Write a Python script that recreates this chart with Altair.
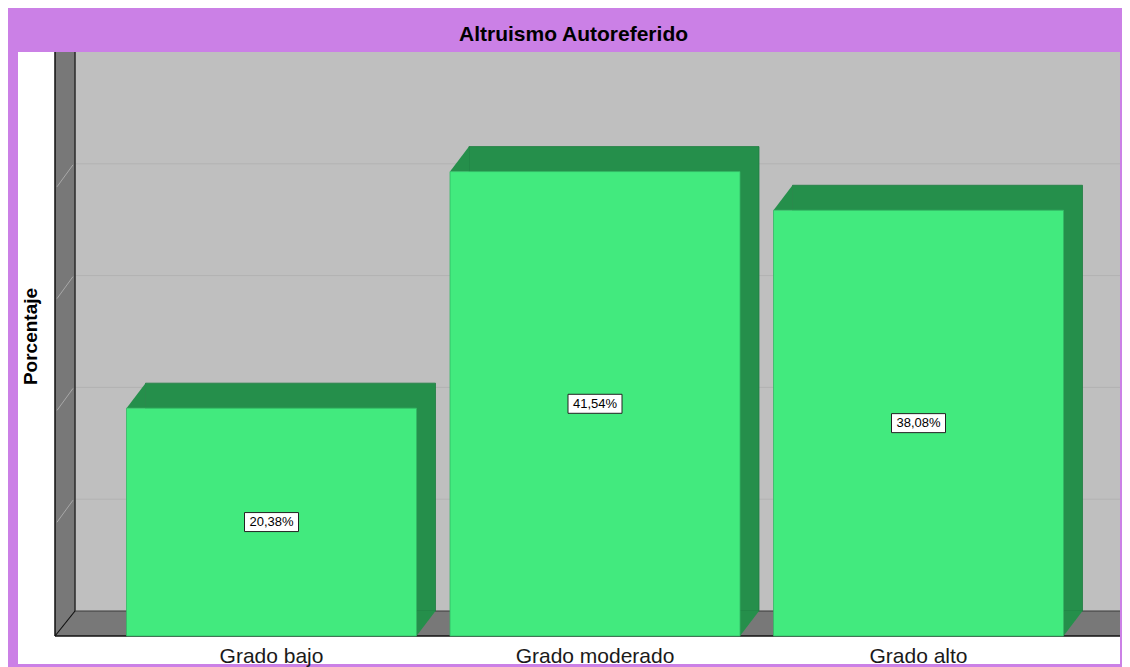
import altair as alt
import pandas as pd

# ---- data ----
categories = ["Grado bajo", "Grado moderado", "Grado alto"]
percentages = [20.38, 41.54, 38.08]
grid_ticks = [10, 20, 30, 40]
y_domain = [0, 50]
title_text = "Altruismo Autoreferido"
y_title = "Porcentaje"

labels = [f"{v:.2f}".replace(".", ",") + "%" for v in percentages]
bars = pd.DataFrame({"cat": categories, "pct": percentages, "label": labels})
bars["mid"] = bars["pct"] / 2
grid = pd.DataFrame({"g": grid_ticks})
one = pd.DataFrame({"k": [0]})

# ---- style ----
W, H = 1045, 559          # back wall (plot area)
DX, DY = 19, 25           # 3D depth in px
BW = 290                  # bar width in px
FONT = "Liberation Sans"
PURPLE = "#CB80E6"
WALL = "#BFBFBF"
SIDE = "#787878"
GREEN = "#42EA7E"
DGREEN = "#258F4B"

xscale = alt.Scale(domain=categories, paddingInner=0, paddingOuter=0.11515, align=0.7215)
yscale = alt.Scale(domain=y_domain, nice=False, zero=True)

xaxis = alt.Axis(orient="bottom", offset=DY, labelOffset=-DX, domain=False, ticks=False,
                 grid=False, labelFont=FONT, labelFontSize=21, labelColor="#1a1a1a",
                 labelPadding=9, title=None, labelAngle=0, zindex=2)
yaxis = alt.Axis(title=y_title, labels=False, ticks=False, domain=False, grid=False,
                 titleFont=FONT, titleFontSize=19, titleFontWeight="bold", titleColor="black",
                 titleAngle=270, titleAlign="center", titleBaseline="middle",
                 titleX=-44.5, titleY=284, zindex=2)

X = alt.X("cat:N", scale=xscale, sort=categories, axis=xaxis)


def Yf(field):
    return alt.Y(field, scale=yscale, axis=yaxis)


def box(x, x2, y, y2, color):
    return alt.Chart(one).mark_rect(color=color).encode(
        x=alt.value(x), x2=alt.value(x2), y=alt.value(y), y2=alt.value(y2))


def seg(x, x2, y, y2, color, w):
    return alt.Chart(one).mark_rule(color=color, strokeWidth=w).encode(
        x=alt.value(x), x2=alt.value(x2), y=alt.value(y), y2=alt.value(y2))


panel = box(-57, W, 0, H + 53, "white")
back_wall = box(0, W, 0, H, WALL)
gridlines = alt.Chart(grid).mark_rule(color="#B2B2B2", strokeWidth=1).encode(
    y=Yf("g:Q"), x=alt.value(0), x2=alt.value(W))
left_wall = box(-DX - 1, 0, 0, H + DY, SIDE)
floor = box(-DX - 1, W, H, H + DY, SIDE)
wall_diag = alt.Chart(grid).mark_rule(color="#A8A8A8", strokeWidth=1, yOffset=DY - 2,
                                      y2Offset=1).encode(
    y=Yf("g:Q"), y2="g:Q", x=alt.value(-DX + 1), x2=alt.value(-2))
lines = [
    seg(-DX - 1, -DX - 1, 0, H + DY, "#111111", 1.5),
    seg(0, 0, 0, H, "#2a2a2a", 1.5),
    seg(0, W, H, H, "#3a3a3a", 1.2),
    seg(-DX - 1, W, H + DY, H + DY, "#111111", 1.5),
    seg(-DX - 1, 0, H + DY, H, "#111111", 1.2),
]

bar_back = alt.Chart(bars).mark_bar(width=BW, color=DGREEN, stroke="#1F7C41",
                                    strokeWidth=0.8).encode(
    x=X, y=Yf("pct:Q"), y2=alt.datum(0))
tri_top = alt.Chart(bars).mark_point(shape="M-164,25L-145,0L-145,25Z", size=4, filled=True,
                                     fill=DGREEN, opacity=1, strokeWidth=0).encode(
    x=X, y=Yf("pct:Q"))
tri_bottom = alt.Chart(bars).mark_point(shape="M126,0L145,0L126,25Z", size=4, filled=True,
                                        fill=DGREEN, opacity=1, strokeWidth=0).encode(
    x=X, y=alt.datum(0))
bar_front = alt.Chart(bars).mark_bar(width=BW, color=GREEN, stroke="#34B764", strokeWidth=0.8,
                                     xOffset=-DX, yOffset=DY, y2Offset=DY).encode(
    x=X, y=Yf("pct:Q"), y2=alt.datum(0))
label_box = alt.Chart(bars).mark_point(shape="M-27,-9.5L27,-9.5L27,9.5L-27,9.5Z", size=4,
                                       filled=True, fill="white", stroke="#222222",
                                       strokeWidth=1, opacity=1,
                                       xOffset=-DX, yOffset=DY).encode(
    x=X, y=Yf("mid:Q"))
label_text = alt.Chart(bars).mark_text(font=FONT, fontSize=13, color="black", xOffset=-DX,
                                       yOffset=DY, baseline="middle", align="center").encode(
    x=X, y=Yf("mid:Q"), text="label:N")

chart = alt.layer(
    panel, back_wall, gridlines, left_wall, floor, wall_diag, *lines,
    bar_back, tri_top, tri_bottom, bar_front, label_box, label_text,
).properties(
    width=W, height=H,
    background=PURPLE,
    padding={"left": 67, "top": 44, "right": 2, "bottom": 56},
    autosize=alt.AutoSizeParams(type="none"),
    title=alt.Title(title_text, font=FONT, fontSize=21, fontWeight="bold", color="black",
                    anchor="middle", dx=-24, dy=21, offset=10, baseline="alphabetic"),
).configure_view(stroke=None)

chart.save("out.html", embed_options={"renderer": "svg", "actions": False})
